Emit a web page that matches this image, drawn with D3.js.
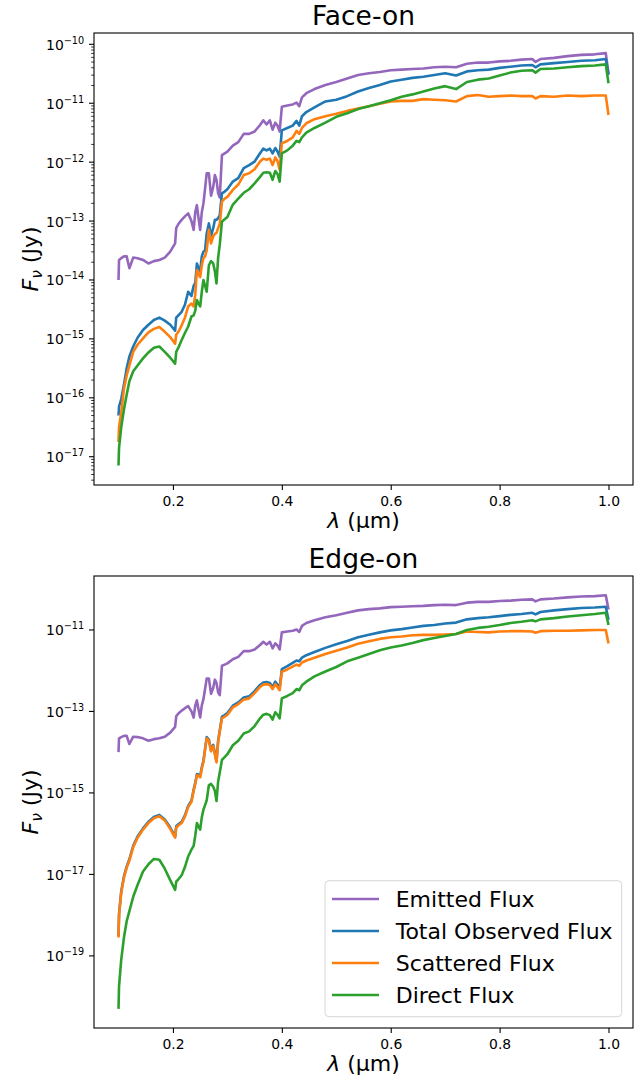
<!DOCTYPE html>
<html>
<head>
<meta charset="utf-8">
<script src="https://cdn.jsdelivr.net/npm/d3@7"></script>
<style>
    body { margin: 0; background: #fff; }
    svg { display: block; font-family: "DejaVu Sans", sans-serif; }
</style>
</head>
<body>
<div id="chart-container"></div>
<script>
// wavelength grid (micron) shared by all spectra
const wavelength = [
    0.100, 0.101, 0.105, 0.110, 0.115, 0.120, 0.127, 0.135, 0.145, 0.155,
    0.165, 0.175, 0.185, 0.195, 0.204, 0.206, 0.210, 0.216, 0.222, 0.228,
    0.234, 0.238, 0.241, 0.244, 0.247, 0.250, 0.253, 0.256, 0.259, 0.262,
    0.266, 0.270, 0.274, 0.277, 0.280, 0.283, 0.286, 0.290, 0.295, 0.300,
    0.310, 0.320, 0.330, 0.340, 0.350, 0.360, 0.366, 0.372, 0.378, 0.383,
    0.388, 0.392, 0.396, 0.400, 0.410, 0.420, 0.427, 0.432, 0.437, 0.445,
    0.460, 0.480, 0.500, 0.520, 0.540, 0.560, 0.580, 0.600, 0.620, 0.640,
    0.660, 0.680, 0.700, 0.720, 0.740, 0.760, 0.780, 0.800, 0.820, 0.840,
    0.860, 0.866, 0.875, 0.900, 0.925, 0.950, 0.975, 0.995, 1.000
];

// log10 of F_nu (Jy)
const emittedLog = [
    -14.00, -13.66, -13.63, -13.60, -13.60, -13.80, -13.62, -13.63, -13.66, -13.72,
    -13.68, -13.66, -13.62, -13.52, -13.38, -13.12, -13.05, -12.98, -12.92, -12.87,
    -13.00, -13.15, -12.85, -12.73, -12.95, -13.15, -12.85, -12.70, -12.45, -12.19,
    -12.19, -12.57, -12.42, -12.22, -12.30, -12.53, -12.60, -11.88, -11.85, -11.82,
    -11.72, -11.66, -11.52, -11.52, -11.48, -11.37, -11.29, -11.36, -11.29, -11.45,
    -11.33, -11.38, -11.48, -11.06, -11.04, -11.02, -10.99, -11.05, -10.90, -10.83,
    -10.76, -10.69, -10.64, -10.58, -10.52, -10.49, -10.47, -10.44, -10.43, -10.42,
    -10.41, -10.39, -10.38, -10.39, -10.33, -10.31, -10.31, -10.29, -10.28, -10.26,
    -10.25, -10.30, -10.25, -10.23, -10.20, -10.18, -10.17, -10.15, -10.50
];

const faceTotalLog = [
    -16.30, -16.15, -16.02, -15.78, -15.50, -15.30, -15.13, -14.98, -14.85, -14.76,
    -14.68, -14.64, -14.69, -14.76, -14.86, -14.64, -14.60, -14.54, -14.42, -14.20,
    -14.27, -14.10, -14.05, -13.72, -13.80, -13.85, -13.60, -13.52, -13.50, -13.21,
    -13.04, -13.25, -13.12, -12.98, -12.98, -12.95, -12.90, -12.53, -12.50, -12.46,
    -12.33, -12.27, -12.10, -12.05, -11.99, -11.85, -11.77, -11.80, -11.77, -11.85,
    -11.76, -11.82, -11.91, -11.46, -11.42, -11.38, -11.30, -11.38, -11.22, -11.15,
    -11.07, -10.97, -10.94, -10.88, -10.80, -10.74, -10.69, -10.63, -10.60, -10.57,
    -10.55, -10.52, -10.49, -10.53, -10.46, -10.44, -10.43, -10.40, -10.38, -10.36,
    -10.35, -10.39, -10.34, -10.32, -10.30, -10.28, -10.27, -10.25, -10.52
];

const faceScatteredLog = [
    -16.75, -16.50, -16.25, -15.85, -15.62, -15.45, -15.22, -15.10, -14.99, -14.89,
    -14.83, -14.80, -14.88, -14.97, -15.08, -14.93, -14.88, -14.77, -14.64, -14.45,
    -14.40, -14.45, -14.25, -13.83, -13.90, -13.95, -13.75, -13.63, -13.60, -13.50,
    -13.15, -13.38, -13.26, -13.22, -13.20, -13.12, -13.05, -12.67, -12.62, -12.59,
    -12.47, -12.38, -12.22, -12.19, -12.12, -11.99, -11.94, -11.96, -11.94, -12.05,
    -11.92, -11.98, -12.13, -11.68, -11.64, -11.58, -11.47, -11.52, -11.42, -11.34,
    -11.27, -11.22, -11.18, -11.13, -11.09, -11.05, -11.01, -10.97, -10.96, -10.96,
    -10.93, -10.94, -10.95, -10.97, -10.88, -10.86, -10.89, -10.88, -10.87, -10.88,
    -10.88, -10.92, -10.88, -10.89, -10.87, -10.88, -10.87, -10.87, -11.20
];

const faceDirectLog = [
    -17.15, -16.85, -16.50, -16.20, -15.95, -15.72, -15.55, -15.45, -15.33, -15.23,
    -15.15, -15.13, -15.22, -15.32, -15.42, -15.22, -15.15, -15.02, -14.90, -14.79,
    -14.62, -14.60, -14.52, -14.34, -14.40, -14.45, -14.20, -14.00, -14.10, -14.20,
    -13.75, -13.68, -13.72, -13.85, -14.06, -13.62, -13.40, -13.01, -12.97, -12.93,
    -12.72, -12.62, -12.52, -12.46, -12.36, -12.25, -12.18, -12.17, -12.18, -12.30,
    -12.15, -12.20, -12.33, -11.85, -11.80, -11.72, -11.64, -11.66, -11.58, -11.50,
    -11.42, -11.33, -11.23, -11.17, -11.10, -11.05, -11.00, -10.95, -10.89, -10.85,
    -10.80, -10.75, -10.71, -10.76, -10.64, -10.60, -10.58, -10.53, -10.48, -10.45,
    -10.44, -10.48, -10.42, -10.41, -10.39, -10.37, -10.36, -10.34, -10.66
];

const edgeTotalLog = [
    -18.52, -17.97, -17.42, -17.05, -16.81, -16.63, -16.30, -16.07, -15.87, -15.71,
    -15.59, -15.54, -15.65, -15.85, -16.07, -15.82, -15.77, -15.71, -15.55, -15.32,
    -15.19, -14.92, -14.75, -14.54, -14.55, -14.59, -14.37, -14.21, -13.92, -13.63,
    -13.69, -13.95, -13.82, -14.02, -14.22, -13.72, -13.47, -13.13, -13.09, -13.04,
    -12.86, -12.78, -12.66, -12.63, -12.50, -12.35, -12.29, -12.28, -12.30, -12.40,
    -12.27, -12.34, -12.42, -11.96, -11.89, -11.81, -11.75, -11.77, -11.68, -11.62,
    -11.54, -11.44, -11.35, -11.27, -11.18, -11.12, -11.06, -11.01, -10.98, -10.94,
    -10.90, -10.88, -10.84, -10.82, -10.74, -10.71, -10.69, -10.66, -10.63, -10.61,
    -10.58, -10.62, -10.56, -10.52, -10.49, -10.46, -10.45, -10.43, -10.75
];

const edgeScatteredLog = [
    -18.55, -18.00, -17.45, -17.08, -16.84, -16.66, -16.33, -16.10, -15.90, -15.74,
    -15.62, -15.57, -15.68, -15.88, -16.10, -15.85, -15.80, -15.74, -15.58, -15.35,
    -15.22, -14.95, -14.78, -14.57, -14.58, -14.62, -14.40, -14.24, -13.95, -13.66,
    -13.72, -13.98, -13.85, -14.05, -14.25, -13.75, -13.50, -13.17, -13.13, -13.08,
    -12.90, -12.82, -12.71, -12.68, -12.55, -12.40, -12.34, -12.33, -12.35, -12.45,
    -12.33, -12.40, -12.48, -12.03, -11.97, -11.90, -11.85, -11.88, -11.80, -11.75,
    -11.68, -11.59, -11.51, -11.43, -11.34, -11.28, -11.22, -11.18, -11.16, -11.13,
    -11.12, -11.12, -11.11, -11.10, -11.04, -11.05, -11.06, -11.04, -11.03, -11.03,
    -11.04, -11.07, -11.03, -11.02, -11.02, -11.01, -11.00, -11.00, -11.33
];

const edgeDirectLog = [
    -20.30, -19.75, -19.10, -18.55, -18.15, -17.90, -17.55, -17.26, -16.93, -16.75,
    -16.62, -16.64, -16.86, -17.14, -17.38, -17.18, -17.12, -17.02, -16.82, -16.56,
    -16.39, -16.30, -16.05, -15.74, -15.82, -15.90, -15.60, -15.41, -15.30, -15.18,
    -14.81, -14.78, -14.85, -14.95, -15.20, -14.72, -14.50, -14.19, -14.12, -14.05,
    -13.83, -13.72, -13.54, -13.49, -13.36, -13.17, -13.08, -13.06, -13.09, -13.20,
    -13.02, -13.08, -13.17, -12.68, -12.62, -12.55, -12.45, -12.48, -12.36, -12.27,
    -12.14, -12.02, -11.91, -11.77, -11.68, -11.59, -11.50, -11.43, -11.38, -11.32,
    -11.25, -11.20, -11.15, -11.10, -11.00, -10.95, -10.92, -10.88, -10.83, -10.80,
    -10.76, -10.79, -10.74, -10.71, -10.67, -10.64, -10.61, -10.58, -10.88
];

const seriesNames = ["Emitted Flux", "Total Observed Flux", "Scattered Flux", "Direct Flux"];
const seriesColors = ["#9467bd", "#1f77b4", "#ff7f0e", "#2ca02c"];

const xTicks = [0.2, 0.4, 0.6, 0.8, 1.0];
const faceOnTickExps = [-17, -16, -15, -14, -13, -12, -11, -10];
const edgeOnTickExps = [-19, -17, -15, -13, -11];

const width = 644;
const height = 1079;
const left = 94;
const right = 633;

const svg = d3.select("#chart-container")
    .append("svg")
    .attr("width", width)
    .attr("height", height);

function drawPanel(p) {
    const x = d3.scaleLinear()
        .domain([0.055, 1.045])
        .range([left, right]);

    const y = d3.scaleLog()
        .domain([Math.pow(10, p.logMin), Math.pow(10, p.logMax)])
        .range([p.bottom, p.top]);

    const g = svg.append("g");

    // spectra
    const line = d3.line()
        .x(d => x(d[0]))
        .y(d => y(d[1]));

    p.series.forEach((vals, i) => {
        const pts = wavelength.map((w, j) => [w, Math.pow(10, vals[j])]);
        g.append("path")
            .datum(pts)
            .attr("fill", "none")
            .attr("stroke", seriesColors[i])
            .attr("stroke-width", 2.6)
            .attr("stroke-linejoin", "round")
            .attr("d", line);
    });

    // x axis
    const xAxis = g.append("g")
        .attr("transform", `translate(0,${p.bottom})`)
        .call(d3.axisBottom(x).tickValues(xTicks).tickSize(5).tickPadding(6.5)
            .tickFormat(d3.format(".1f")));
    xAxis.select(".domain").remove();
    xAxis.selectAll("line").attr("stroke", "#000").attr("stroke-width", 1.1);
    xAxis.selectAll("text")
        .attr("fill", "#000")
        .style("font-size", "13.9px")
        .style("font-family", "DejaVu Sans, sans-serif");

    // minor y ticks
    if (p.minor) {
        const minor = [];
        for (let e = Math.floor(p.logMin); e <= Math.ceil(p.logMax); e++) {
            for (let s = 2; s <= 9; s++) {
                const v = s * Math.pow(10, e);
                const lv = Math.log10(v);
                if (lv > p.logMin && lv < p.logMax) minor.push(v);
            }
        }
        g.selectAll(".minor")
            .data(minor)
            .enter()
            .append("line")
            .attr("x1", left - 2.8)
            .attr("x2", left)
            .attr("y1", d => y(d))
            .attr("y2", d => y(d))
            .attr("stroke", "#000")
            .attr("stroke-width", 0.8);
    }

    // major y ticks
    const major = g.selectAll(".ytick")
        .data(p.tickExps)
        .enter()
        .append("g")
        .attr("transform", d => `translate(0,${y(Math.pow(10, d))})`);

    major.append("line")
        .attr("x1", left - 5)
        .attr("x2", left)
        .attr("stroke", "#000")
        .attr("stroke-width", 1.1);

    const lbl = major.append("text")
        .attr("x", left - 9.8)
        .attr("y", 5.5)
        .attr("text-anchor", "end")
        .style("font-size", "13.9px");
    lbl.append("tspan").text("10");
    lbl.append("tspan")
        .attr("dy", -6)
        .style("font-size", "9.7px")
        .text(d => "\u2212" + Math.abs(d));

    // frame
    g.append("rect")
        .attr("x", left)
        .attr("y", p.top)
        .attr("width", right - left)
        .attr("height", p.bottom - p.top)
        .attr("fill", "none")
        .attr("stroke", "#000")
        .attr("stroke-width", 1.1);

    // title
    g.append("text")
        .attr("x", (left + right) / 2)
        .attr("y", p.top - 8)
        .attr("text-anchor", "middle")
        .style("font-size", "26.5px")
        .text(p.title);

    // x label
    const xl = g.append("text")
        .attr("x", (left + right) / 2)
        .attr("y", p.bottom + 43)
        .attr("text-anchor", "middle")
        .style("font-size", "22px");
    xl.append("tspan").style("font-style", "italic").text("\u03bb");
    xl.append("tspan").text(" (\u00b5m)");

    // y label
    const yl = g.append("text")
        .attr("transform", `translate(38,${(p.top + p.bottom) / 2}) rotate(-90)`)
        .attr("text-anchor", "middle")
        .style("font-size", "22px");
    yl.append("tspan").style("font-style", "italic").text("F");
    yl.append("tspan").style("font-style", "italic").style("font-size", "15.5px")
        .attr("dy", 4).text("\u03bd");
    yl.append("tspan").attr("dy", -4).text(" (Jy)");

    // legend
    if (p.legend) {
        const bw = 296.7, bh = 136;
        const bx = right - 11.3 - bw;
        const by = p.bottom - 11.3 - bh;
        const lg = g.append("g").attr("transform", `translate(${bx},${by})`);
        lg.append("rect")
            .attr("width", bw)
            .attr("height", bh)
            .attr("rx", 4)
            .attr("fill", "#fff")
            .attr("fill-opacity", 0.8)
            .attr("stroke", "#d6d6d6")
            .attr("stroke-width", 1);
        const item = lg.selectAll(".item")
            .data(seriesNames)
            .enter()
            .append("g")
            .attr("transform", (d, i) => `translate(0,${18.3 + i * 32})`);
        item.append("line")
            .attr("x1", 7)
            .attr("x2", 54)
            .attr("stroke", (d, i) => seriesColors[i])
            .attr("stroke-width", 2.6);
        item.append("text")
            .attr("x", 70.7)
            .attr("y", 8)
            .style("font-size", "22px")
            .text(d => d);
    }
}

drawPanel({
    title: "Face-on",
    top: 33,
    bottom: 485,
    logMin: -17.48,
    logMax: -9.808,
    series: [emittedLog, faceTotalLog, faceScatteredLog, faceDirectLog],
    tickExps: faceOnTickExps,
    minor: true,
    legend: false
});

drawPanel({
    title: "Edge-on",
    top: 576,
    bottom: 1028,
    logMin: -20.77,
    logMax: -9.676,
    series: [emittedLog, edgeTotalLog, edgeScatteredLog, edgeDirectLog],
    tickExps: edgeOnTickExps,
    minor: false,
    legend: true
});
</script>
</body>
</html>
